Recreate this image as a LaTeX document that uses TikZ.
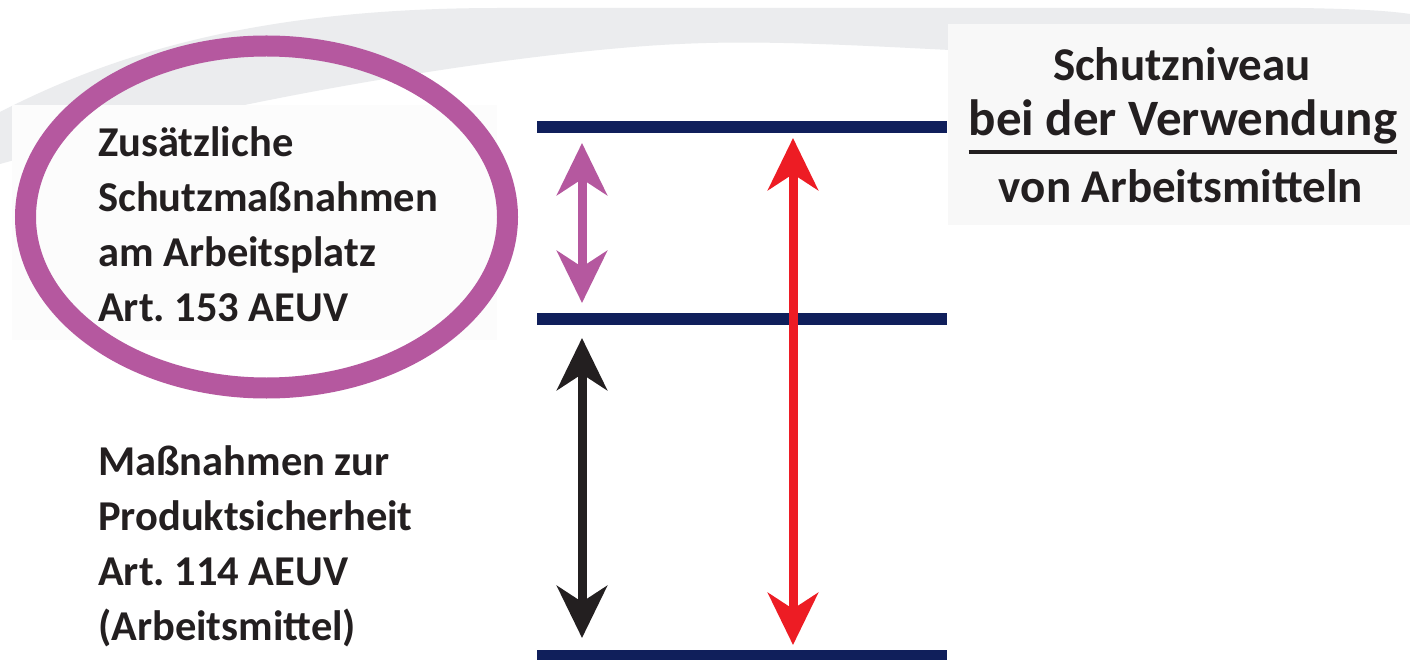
\documentclass[tikz,border=0pt]{standalone}
\usepackage{fontspec}
\setmainfont{Carlito}
\frenchspacing
\usetikzlibrary{arrows.meta}
\definecolor{navy}{HTML}{101F5B}
\definecolor{plum}{HTML}{B5589F}
\definecolor{alarm}{HTML}{ED1C24}
\definecolor{ink}{HTML}{231F20}
\definecolor{haze}{HTML}{EBECEE}
\definecolor{paper}{HTML}{F8F8F8}
\definecolor{sheet}{HTML}{FCFCFC}
\begin{document}
\begin{tikzpicture}[x=1pt,y=-1pt,
  rung/.style={line width=12pt, navy},
  reach/.style={line width=9pt,
    {Stealth[length=52pt,width=50pt,inset=16pt]}-{Stealth[length=52pt,width=50pt,inset=16pt]}},
  blocktext/.style={font=\bfseries\fontsize{42.5}{55}\selectfont, text=ink,
    align=left, inner sep=0pt, anchor=base west},
  headtext/.style={text=ink, inner sep=0pt, anchor=base},
]
\useasboundingbox (0,0) rectangle (1410,660);
\fill[white] (0,0) rectangle (1410,660);

% pale swoosh across the top
\fill[haze] (0,112) .. controls (130,45) and (280,8) .. (500,8)
  -- (1300,8) .. controls (1360,9) and (1390,11) .. (1410,14)
  -- (1410,40) .. controls (1200,35) and (1050,55) .. (950,50)
  .. controls (850,45) and (760,40) .. (680,44)
  .. controls (580,48) and (300,80) .. (0,164) -- cycle;

% text panels
\fill[sheet] (12,105) rectangle (497,340);
\fill[paper] (948,24) rectangle (1410,225);

% highlight ring
\draw[plum, line width=21pt] (266.5,217) ellipse [x radius=241pt, y radius=171pt];

% levels
\coordinate (topL) at (537,127);  \coordinate (topR) at (947,127);
\coordinate (midL) at (537,319);  \coordinate (midR) at (947,319);
\coordinate (botL) at (537,656);  \coordinate (botR) at (947,656);
\draw[rung] (topL) -- (topR);
\draw[rung] (midL) -- (midR);
\draw[rung] (botL) -- (botR);

% spans between levels
\coordinate (pA) at (582,143); \coordinate (pB) at (582,303);
\coordinate (kA) at (582,338); \coordinate (kB) at (582,638);
\coordinate (rA) at (793,138); \coordinate (rB) at (793,645);
\draw[reach, plum] (pA) -- (pB);
\draw[reach, ink] (kA) -- (kB);
\draw[reach, alarm] (rA) -- (rB);

% labels (anchored at the baseline of their last line)
\node[blocktext] (extra) at (98,321)
  {Zusätzliche\\Schutzmaßnahmen\\am Arbeitsplatz\\Art. 153 AEUV};
\node[blocktext] (product) at (98,640)
  {Maßnahmen zur\\Produktsicherheit\\Art. 114 AEUV\\(Arbeitsmittel)};

\node[headtext, font=\bfseries\fontsize{47}{55}\selectfont] (h1) at (1182,81) {Schutzniveau};
\node[headtext, font=\bfseries\fontsize{51}{60}\selectfont] (h2) at (1183,136) {bei der Verwendung};
\node[headtext, font=\bfseries\fontsize{47}{55}\selectfont] (h3) at (1181,203) {von Arbeitsmitteln};
\draw[ink, line width=3.5pt] ([yshift=-16pt]h2.base west) -- ([yshift=-16pt]h2.base east);
\end{tikzpicture}
\end{document}
